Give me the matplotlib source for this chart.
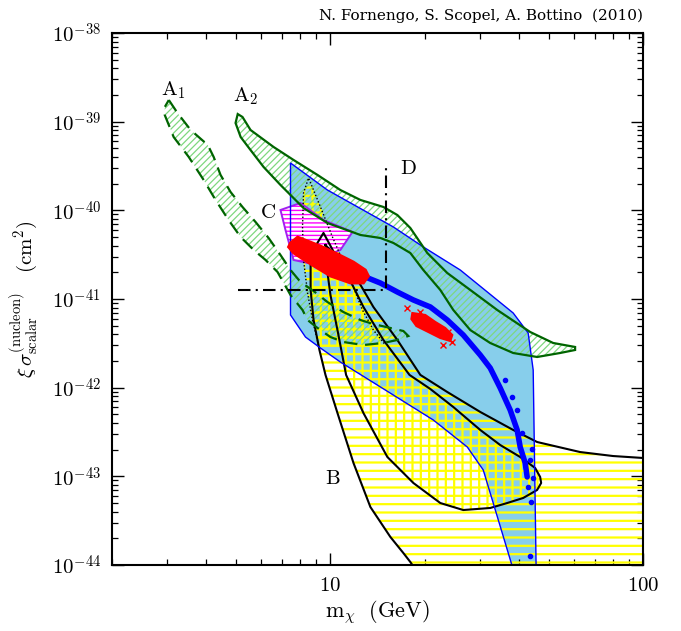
import numpy as np
import matplotlib
matplotlib.use('Agg')
import matplotlib.pyplot as plt
from matplotlib.patches import Polygon
from matplotlib.ticker import FixedLocator, NullFormatter, FuncFormatter

plt.rcParams['mathtext.fontset'] = 'cm'
plt.rcParams['font.family'] = ['DejaVu Serif']

# ---------------- data (mass in GeV, log10 of cross section in cm^2) ----------------
# Region A1 (dashed green band)
a1_m = [3.04, 3.24, 3.57, 4.05, 4.23, 4.45, 4.79, 5.23, 5.76, 6.34, 6.92, 7.45, 8.02, 8.83, 9.78,
        11.0, 12.47, 13.72, 15.55, 17.11, 17.75,
        16.37, 14.77, 12.75, 11.00, 10.0, 9.09, 8.45, 8.14, 7.45, 6.77, 6.20, 5.68, 5.16, 4.72,
        4.29, 3.93, 3.52, 3.15, 2.95, 2.95]
a1_ls = [-38.756, -38.902, -39.094, -39.263, -39.398, -39.601, -39.793, -39.962, -40.132, -40.312,
         -40.504, -40.673, -40.808, -40.910, -41.034, -41.147, -41.237, -41.282, -41.327, -41.361, -41.417,
         -41.462, -41.496, -41.519, -41.485, -41.429, -41.327, -41.237, -41.124, -40.955, -40.695,
         -40.560, -40.447, -40.301, -40.109, -39.883, -39.658, -39.398, -39.173, -38.925, -38.835]

# Region A2 (solid green band)
a2_m = [5.05, 5.23, 5.55, 6.58, 7.62, 9.09, 10.76, 12.47, 14.77, 16.37, 18.01, 20.41, 23.65, 28.01,
        34.17, 43.55, 51.58, 60.64,
        60.64, 54.29, 45.84, 38.43, 32.44, 28.01, 24.72, 22.46, 19.82, 18.01, 15.90, 14.45, 12.47,
        9.78, 8.20, 6.92, 6.11, 5.55, 5.16, 4.97]
a2_ls = [-38.914, -38.947, -39.094, -39.286, -39.432, -39.601, -39.771, -39.883, -39.962, -40.053,
         -40.199, -40.481, -40.707, -40.898, -41.124, -41.372, -41.496, -41.541,
         -41.575, -41.609, -41.654, -41.609, -41.496, -41.350, -41.124, -40.898, -40.673, -40.481,
         -40.368, -40.312, -40.278, -40.143, -39.974, -39.714, -39.511, -39.320, -39.173, -39.015]

# Light blue region
blue_m = [7.45, 9.78, 15.90, 19.82, 26.02, 38.43, 42.91, 44.53, 45.51, 38.43, 33.17, 30.82, 27.40,
          21.34, 14.45, 10.76, 9.29, 8.32, 7.45]
blue_ls = [-39.466, -39.771, -40.188, -40.413, -40.673, -41.158, -41.383, -41.801, -44.05, -44.05,
           -43.301, -42.928, -42.669, -42.365, -41.992, -41.711, -41.553, -41.429, -41.180]

# Region C (magenta)
c_m = [6.92, 8.02, 9.50, 11.76, 10.76, 8.45, 7.62, 7.18]
c_ls = [-39.996, -39.917, -40.109, -40.244, -40.447, -40.594, -40.560, -40.222]

# Region B: outer left boundary, outer right boundary, inner closed contour
b_left_m = [9.50, 9.0, 8.64, 8.64, 8.83, 9.22, 9.64, 10.53, 11.85, 13.42, 15.55, 17.11, 18.01, 18.69]
b_left_ls = [-40.255, -40.391, -40.583, -40.898, -41.237, -41.575, -41.856, -42.286, -42.850, -43.346,
             -43.684, -43.865, -43.966, -44.05]
b_right_m = [9.50, 10.37, 11.85, 13.72, 16.37, 19.39, 23.65, 30.15, 38.43, 45.84, 62.92, 80.20, 100.0, 120.0]
b_right_ls = [-40.255, -40.504, -40.707, -41.090, -41.462, -41.856, -42.049, -42.274, -42.477,
              -42.613, -42.726, -42.771, -42.793, -42.80]
b_in_m = [9.64, 10.53, 11.33, 12.75, 14.77, 17.90, 20.87, 24.72, 30.15, 34.93, 40.46, 45.18, 46.87,
          47.22, 45.84, 41.37, 36.77, 32.44, 26.60, 22.46, 18.42, 15.21, 12.75, 11.22, 10.53, 10.0, 9.71]
b_in_ls = [-40.391, -40.538, -40.729, -41.090, -41.462, -41.856, -42.015, -42.218, -42.477, -42.647,
           -42.782, -42.906, -43.007, -43.075, -43.154, -43.244, -43.301, -43.357, -43.380, -43.301,
           -43.075, -42.782, -42.286, -41.856, -41.350, -40.955, -40.617]

# Dotted contour (left side, right side from the common tip)
dot_left_m = [8.51, 8.20, 8.14, 8.20, 8.45, 8.76, 9.155]
dot_left_ls = [-39.635, -39.804, -40.188, -40.560, -40.932, -41.237, -41.519]
dot_right_m = [8.51, 9.29, 10.15, 10.92, 11.76, 12.66, 13.72, 14.99]
dot_right_ls = [-39.635, -39.962, -40.301, -40.560, -40.842, -41.124, -41.350, -41.519]

# Red dense band
red_m = [7.45, 7.85, 9.29, 10.53, 11.85, 12.94, 13.23, 12.75, 11.59, 10.0, 8.63, 7.62, 7.34]
red_ls = [-40.368, -40.301, -40.402, -40.492, -40.583, -40.673, -40.741, -40.820, -40.820,
          -40.741, -40.605, -40.481, -40.413]
# Small red cluster
red2_m = [18.28, 20.11, 21.65, 23.30, 24.54, 24.18, 22.46, 20.56, 18.83, 18.15]
red2_ls = [-41.158, -41.180, -41.259, -41.327, -41.406, -41.474, -41.440, -41.372, -41.305, -41.226]
red2x_m = [17.62, 22.96, 24.54, 19.39, 23.82]
red2x_ls = [-41.101, -41.519, -41.485, -41.147, -41.372]

# Blue dense band and scattered blue points
bband_m = [11.59, 12.47, 14.45, 16.37, 18.42, 20.87, 23.65, 26.60, 30.15, 32.44, 34.93, 37.59,
           39.57, 40.46, 41.98, 42.60]
bband_ls = [-40.628, -40.729, -40.820, -40.921, -41.011, -41.090, -41.237, -41.406, -41.632,
            -41.778, -42.004, -42.252, -42.477, -42.669, -42.850, -43.007]
bpts_m = [44.20, 43.55, 44.53, 42.91, 43.88, 43.55, 41.07, 39.57, 38.15, 36.25]
bpts_ls = [-42.692, -42.816, -43.019, -43.120, -43.289, -43.898, -42.511, -42.252, -42.105, -41.913]

# Dash-dotted line D
d_m = [5.05, 15.1, 15.1]
d_ls = [-40.898, -40.898, -39.523]

# Region labels
lab_text = [r'$\mathrm{A}_1$', r'$\mathrm{A}_2$', r'$\mathrm{C}$', r'$\mathrm{D}$', r'$\mathrm{B}$']
lab_m = [2.88, 4.86, 5.97, 16.73, 9.64]
lab_ls = [-38.643, -38.711, -40.019, -39.523, -43.019]

x_major = [10, 100]
x_minor = [2, 3, 4, 5, 6, 7, 8, 9, 20, 30, 40, 50, 60, 70, 80, 90]
y_major = [1e-44, 1e-43, 1e-42, 1e-41, 1e-40, 1e-39, 1e-38]


def xy(m, ls):
    return np.column_stack([np.asarray(m, float), 10.0 ** np.asarray(ls, float)])


def sig(ls):
    return 10.0 ** np.asarray(ls, float)


fig = plt.figure(figsize=(6.81, 6.31), dpi=100)
ax = fig.add_axes([112 / 681, 1 - 565 / 631, 531 / 681, 532 / 631])
ax.set_xscale('log')
ax.set_yscale('log')
ax.set_xlim(2, 100)
ax.set_ylim(1e-44, 1e-38)


def hpatch(pts, hatch, color, lw, z, face='none'):
    with plt.rc_context({'hatch.linewidth': lw}):
        p = Polygon(pts, closed=True, facecolor=face, edgecolor=color, linewidth=0,
                    hatch=hatch, zorder=z)
        if hasattr(p, 'set_hatch_linewidth'):
            p.set_hatch_linewidth(lw)
        ax.add_patch(p)
    return p


# blue region fill
ax.add_patch(Polygon(xy(blue_m, blue_ls), closed=True, facecolor='#87CEEB', edgecolor='none', zorder=1))

# region B outer (horizontal yellow lines)
bout = np.vstack([xy(b_left_m, b_left_ls), [[120.0, 1e-45]], xy(b_right_m, b_right_ls)[::-1]])
hpatch(bout, '--', '#FFFF00', 1.6, 2)
# inner contour: add vertical lines -> grid
hpatch(xy(b_in_m, b_in_ls), '||', '#FFFF00', 1.6, 2)
# dotted region: grid
dots = np.vstack([xy(dot_left_m, dot_left_ls), xy(dot_right_m, dot_right_ls)[::-1]])
hpatch(dots, '++', '#FFFF00', 1.6, 2)

# green hatched bands
hpatch(xy(a1_m, a1_ls), '/////', '#7ED87E', 0.9, 3.5)
hpatch(xy(a2_m, a2_ls), '/////', '#7ED87E', 0.9, 3.5)

# region C
hpatch(xy(c_m, c_ls), '----', '#FF00FF', 1.0, 4, face='white')
ax.add_patch(Polygon(xy(c_m, c_ls), closed=True, facecolor='none', edgecolor='#A020F0',
                     linewidth=1.4, zorder=4.5))

# black contours of B
ax.plot(np.r_[b_left_m[::-1], b_right_m[1:]], sig(np.r_[b_left_ls[::-1], b_right_ls[1:]]),
        color='black', lw=1.5, zorder=5)
ax.plot(np.r_[b_in_m, b_in_m[:1]], sig(np.r_[b_in_ls, b_in_ls[:1]]), color='black', lw=1.5, zorder=5)
ax.plot(np.r_[dot_left_m[::-1], dot_right_m[1:]], sig(np.r_[dot_left_ls[::-1], dot_right_ls[1:]]),
        color='black', lw=1.0, ls=(0, (1, 1.5)), zorder=5)

# blue region edge
ax.add_patch(Polygon(xy(blue_m, blue_ls), closed=True, facecolor='none', edgecolor='#0000FF',
                     linewidth=1.0, zorder=5.2))

# green outlines
ax.add_patch(Polygon(xy(a1_m, a1_ls), closed=True, facecolor='none', edgecolor='#006400',
                     linewidth=1.6, linestyle=(0, (6, 3.5)), zorder=5.5))
ax.add_patch(Polygon(xy(a2_m, a2_ls), closed=True, facecolor='none', edgecolor='#006400',
                     linewidth=1.6, zorder=5.5))

# blue points
ax.plot(bband_m, sig(bband_ls), color='#0000FF', lw=4, solid_capstyle='round', zorder=6)
ax.plot(bpts_m, sig(bpts_ls), 'o', color='#0000FF', ms=3, zorder=6)

# red points
ax.add_patch(Polygon(xy(red_m, red_ls), closed=True, facecolor='#FF0000', edgecolor='#FF0000',
                     linewidth=2, zorder=7))
ax.add_patch(Polygon(xy(red2_m, red2_ls), closed=True, facecolor='#FF0000', edgecolor='#FF0000',
                     linewidth=1.5, zorder=7))
ax.plot(red2x_m, sig(red2x_ls), 'x', color='#FF0000', ms=4, mew=1, zorder=7)

# dash-dotted D line
ax.plot(d_m, sig(d_ls), color='black', lw=1.5, ls=(0, (6, 2.5, 1, 2.5)), zorder=8)

for t, m, l in zip(lab_text, lab_m, lab_ls):
    ax.text(m, 10.0 ** l, t, fontsize=15, ha='left', va='center', zorder=9)

# axes styling
for s in ax.spines.values():
    s.set_linewidth(1.5)
    s.set_zorder(10)
y_minor = [k * v for v in y_major[:-1] for k in range(2, 10)]
ax.xaxis.set_major_locator(FixedLocator(x_major))
ax.xaxis.set_minor_locator(FixedLocator(x_minor))
ax.xaxis.set_minor_formatter(NullFormatter())
ax.xaxis.set_major_formatter(FuncFormatter(lambda v, p: r'$%d$' % int(round(v))))
ax.yaxis.set_major_locator(FixedLocator(y_major))
ax.yaxis.set_minor_locator(FixedLocator(y_minor))
ax.yaxis.set_minor_formatter(NullFormatter())
ax.yaxis.set_major_formatter(FuncFormatter(lambda v, p: r'$10^{%d}$' % int(round(np.log10(v)))))
ax.tick_params(which='both', direction='in', top=True, right=True, zorder=10)
ax.tick_params(which='major', length=8.5, width=1.0, labelsize=15, pad=8)
ax.tick_params(which='minor', length=4.5, width=0.9)

ax.set_xlabel(r'$\mathrm{m}_\chi\ \ (\mathrm{GeV})$', fontsize=16, labelpad=2)
ax.set_ylabel(r'$\xi\,\sigma^{(\mathrm{nucleon})}_{\mathrm{scalar}}\quad (\mathrm{cm}^2)$', fontsize=15,
              labelpad=8)

fig.text(643 / 681, 1 - 16 / 631, 'N. Fornengo, S. Scopel, A. Bottino  (2010)', ha='right',
         va='center', fontsize=11, family='DejaVu Serif')

fig.savefig('out.png', dpi=100)
